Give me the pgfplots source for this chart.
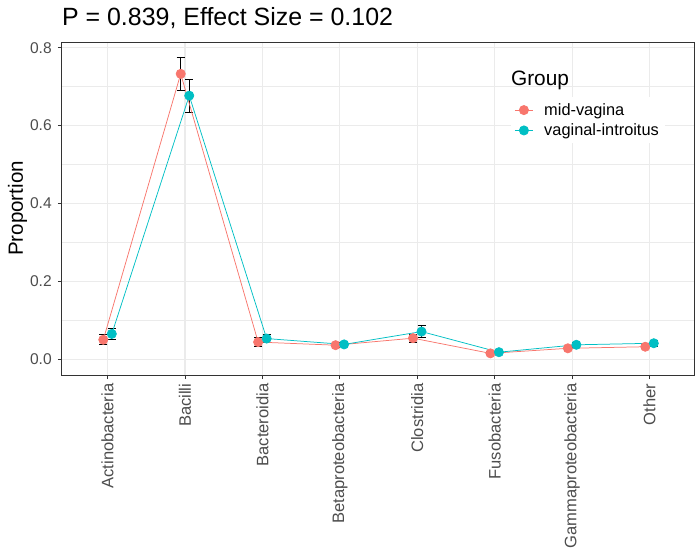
\documentclass[border=0pt]{standalone}
\usepackage{pgfplots}
\pgfplotsset{compat=1.18}
\usepackage{fontspec}
\setmainfont{Liberation Sans}
\definecolor{cmid}{HTML}{F8766D}
\definecolor{cvag}{HTML}{00BFC4}
\definecolor{gridc}{HTML}{EBEBEB}
\definecolor{tickc}{HTML}{4D4D4D}
\definecolor{framec}{HTML}{333333}
\begin{document}
\begin{tikzpicture}[x=1pt,y=1pt]
\begin{axis}[
  scale only axis,
  width=634pt, height=334pt,
  xmin=-0.59, xmax=7.58, ymin=-0.041, ymax=0.815,
  xtick={0,1,2,3,4,5,6,7},
  xticklabels={Actinobacteria,Bacilli,Bacteroidia,Betaproteobacteria,Clostridia,Fusobacteria,Gammaproteobacteria,Other},
  x tick label style={rotate=90, anchor=east, inner sep=4.3pt, font=\fontsize{16.6}{16.6}\selectfont, text=tickc},
  ytick={0,0.2,0.4,0.6,0.8},
  minor ytick={0.1,0.3,0.5,0.7},
  y tick label style={/pgf/number format/fixed, /pgf/number format/fixed zerofill, /pgf/number format/precision=1, /pgf/number format/assume math mode=true, inner sep=6pt, font=\fontsize{15.6}{15.6}\selectfont, text=tickc},
  xmajorgrids, ymajorgrids, yminorgrids,
  major grid style={gridc, line width=1.1pt},
  minor grid style={gridc, line width=0.6pt},
  axis line style={framec, line width=0.8pt},
  tick style={framec, line width=0.8pt},
  tick align=outside, tick pos=left,
  major tick length=4pt, minor tick length=0pt,
  title={P = 0.839, Effect Size = 0.102},
  title style={at={(rel axis cs:0,1)}, anchor=base west, yshift=10.3pt, inner sep=0pt, font=\fontsize{25}{25}\selectfont},
  ylabel={Proportion},
  every axis y label/.style={at={(rel axis cs:0,0.5)}, rotate=90, anchor=center, yshift=44.5pt, inner sep=0pt, font=\fontsize{20.6}{20.6}\selectfont},
  legend style={at={(rel axis cs:0.709,0.834)}, anchor=north west, draw=none, fill=white,
    font=\fontsize{16.4}{16.4}\selectfont, row sep=3pt, column sep=9pt, inner sep=4pt},
  legend cell align=left,
  legend image code/.code={\draw[mark repeat=2,mark phase=2] plot coordinates {(0pt,0pt)(9pt,0pt)(18pt,0pt)};},
]
\coordinate (ll) at (rel axis cs:0,0);
% error bars
\addplot[only marks, mark=none, forget plot,
  error bars/.cd, y dir=both, y explicit,
  error bar style={black, line width=0.9pt},
  error mark options={rotate=90, black, mark size=4pt, line width=0.9pt}]
  coordinates {
  (-0.055,0.050) +- (0,0.013)
  (0.945,0.733) +- (0,0.043)
  (1.945,0.044) +- (0,0.011)
  (2.945,0.036) +- (0,0.006)
  (3.945,0.054) +- (0,0.010)
  (4.945,0.015) +- (0,0.004)
  (5.945,0.028) +- (0,0.006)
  (6.945,0.032) +- (0,0.005)
  };
\addplot[only marks, mark=none, forget plot,
  error bars/.cd, y dir=both, y explicit,
  error bar style={black, line width=0.9pt},
  error mark options={rotate=90, black, mark size=4pt, line width=0.9pt}]
  coordinates {
  (0.055,0.065) +- (0,0.014)
  (1.055,0.677) +- (0,0.042)
  (2.055,0.053) +- (0,0.011)
  (3.055,0.038) +- (0,0.006)
  (4.055,0.071) +- (0,0.015)
  (5.055,0.018) +- (0,0.004)
  (6.055,0.037) +- (0,0.007)
  (7.055,0.041) +- (0,0.008)
  };
\addplot[cmid, line width=0.75pt, mark=*, mark size=4.6pt, mark options={fill=cmid, draw=cmid}]
  coordinates {
  (-0.055,0.050) (0.945,0.733) (1.945,0.044) (2.945,0.036)
  (3.945,0.054) (4.945,0.015) (5.945,0.028) (6.945,0.032)
  };
\addlegendentry{mid-vagina}
\addplot[cvag, line width=0.75pt, mark=*, mark size=4.6pt, mark options={fill=cvag, draw=cvag}]
  coordinates {
  (0.055,0.065) (1.055,0.677) (2.055,0.053) (3.055,0.038)
  (4.055,0.071) (5.055,0.018) (6.055,0.037) (7.055,0.041)
  };
\addlegendentry{vaginal-introitus}
\node[anchor=base west, inner sep=0pt, font=\fontsize{20.9}{20.9}\selectfont] at (rel axis cs:0.7098,0.869) {Group};
\end{axis}
\path[use as bounding box] (ll) ++(-62,-171) rectangle ++(695,547);
\end{tikzpicture}
\end{document}
